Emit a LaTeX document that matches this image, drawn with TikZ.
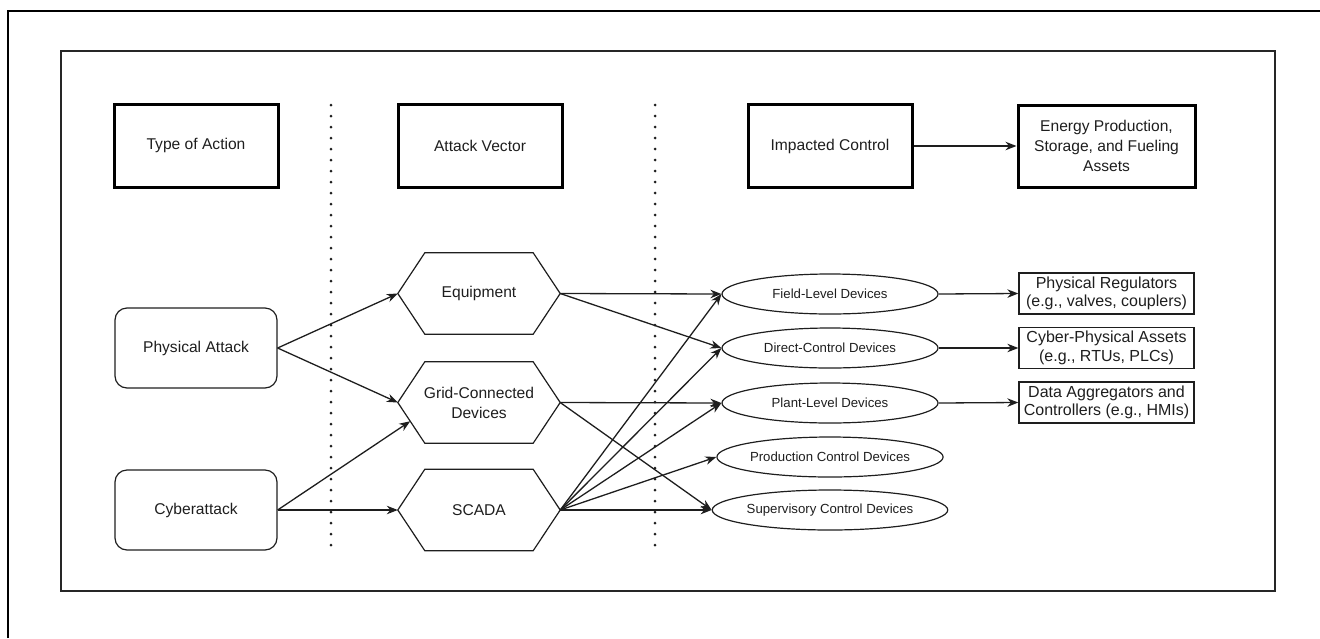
\documentclass[tikz,border=0pt]{standalone}
\usepackage{fontspec}
\setmainfont{Liberation Sans}
\usetikzlibrary{shapes.geometric,arrows.meta,calc}
\definecolor{ink}{HTML}{1E1E1E}
\begin{document}
\begin{tikzpicture}[x=1pt,y=-1pt,
  every node/.style={text=ink, inner sep=0pt, align=center},
  hdr/.style={draw=black, line width=3pt, rectangle, minimum width=164pt, minimum height=83pt, font=\fontsize{15.6}{20}\selectfont},
  rbox/.style={draw=ink, line width=1.2pt, rectangle, rounded corners=12pt, minimum width=162pt, minimum height=80pt, font=\fontsize{15.6}{20}\selectfont},
  hexnode/.style={minimum width=162pt, minimum height=81pt, font=\fontsize{15.6}{20}\selectfont},
  hexline/.style={draw=ink, line width=1.2pt, line join=miter},
  ell/.style={draw=ink, line width=1.2pt, ellipse, minimum width=216pt, minimum height=40pt, font=\fontsize{13.2}{16}\selectfont},
  sbox/.style={draw=ink, line width=1.3pt, rectangle, minimum width=175pt, minimum height=41pt, font=\fontsize{16}{18.5}\selectfont},
  conn/.style={draw=ink, line width=1.3pt, -{Stealth[length=11pt,width=8.5pt,inset=3.5pt]}},
  dotline/.style={draw=ink, line width=3pt, line cap=round, dash pattern=on 0pt off 11pt}
]
\useasboundingbox (0,0) rectangle (1320,638);
% frames
\draw[black, line width=1.4pt] (8,638) -- (8,11) -- (1320,11);
\draw[black!85, line width=1.4pt] (61,51) rectangle (1275,591);
% dotted separators
\draw[dotline] (331,105) -- (331,550);
\draw[dotline] (655,105) -- (655,550);
% headers
\node[hdr] (toa) at (196,145.5) {Type of Action};
\node[hdr] (av) at (480,145.5) {Attack Vector};
\node[hdr] (ic) at (830,146) {Impacted Control};
\node[hdr, minimum width=177pt, minimum height=82pt] (en) at (1106.5,146) {Energy Production,\\Storage, and Fueling\\Assets};
% actions
\node[rbox] (pa) at (196,348) {Physical Attack};
\node[rbox] (cy) at (196,510) {Cyberattack};
% attack vectors (hexagons)
\node[hexnode] (eq) at (479,293.5) {Equipment};
\node[hexnode] (grid) at (479,402.5) {Grid-Connected\\Devices};
\node[hexnode] (scada) at (479,510) {SCADA};
\foreach \n in {eq,grid,scada}
  \draw[hexline] (\n.west) -- ([xshift=27pt]\n.north west) -- ([xshift=-27pt]\n.north east) -- (\n.east) -- ([xshift=-27pt]\n.south east) -- ([xshift=27pt]\n.south west) -- cycle;
\coordinate (gridin) at ($(grid.west)!0.46!([xshift=27pt]grid.south west)$);
% impacted controls
\node[ell] (fl) at (830,294) {Field-Level Devices};
\node[ell] (dc) at (830,348) {Direct-Control Devices};
\node[ell] (pl) at (830,403) {Plant-Level Devices};
\node[ell] (pc) at (830,457) {Production Control Devices};
\node[ell] (sv) at (830,510) {Supervisory Control Devices};
% assets
\node[sbox] (r1) at (1106.5,293.5) {Physical Regulators\\(e.g., valves, couplers)};
\node[sbox] (r2) at (1106.5,348) {Cyber-Physical Assets\\(e.g., RTUs, PLCs)};
\node[sbox] (r3) at (1106.5,402.5) {Data Aggregators and\\Controllers (e.g., HMIs)};
% connectors
\draw[conn] (ic.east) -- (en.west);
\draw[conn] (pa.east) -- (eq.west);
\draw[conn] (pa.east) -- (grid.west);
\draw[conn] (cy.east) -- (gridin);
\draw[conn] (cy.east) -- (scada.west);
\draw[conn] (eq.east) -- (fl.west);
\draw[conn] (eq.east) -- (dc.west);
\draw[conn] (grid.east) -- (pl.west);
\draw[conn] (grid.east) -- (sv.west);
\foreach \t in {fl,dc,pl,pc,sv}
  \draw[conn] (scada.east) -- (\t.west);
\draw[conn] (fl.east) -- (r1.west);
\draw[conn] (dc.east) -- (r2.west);
\draw[conn] (pl.east) -- (r3.west);
\end{tikzpicture}
\end{document}
